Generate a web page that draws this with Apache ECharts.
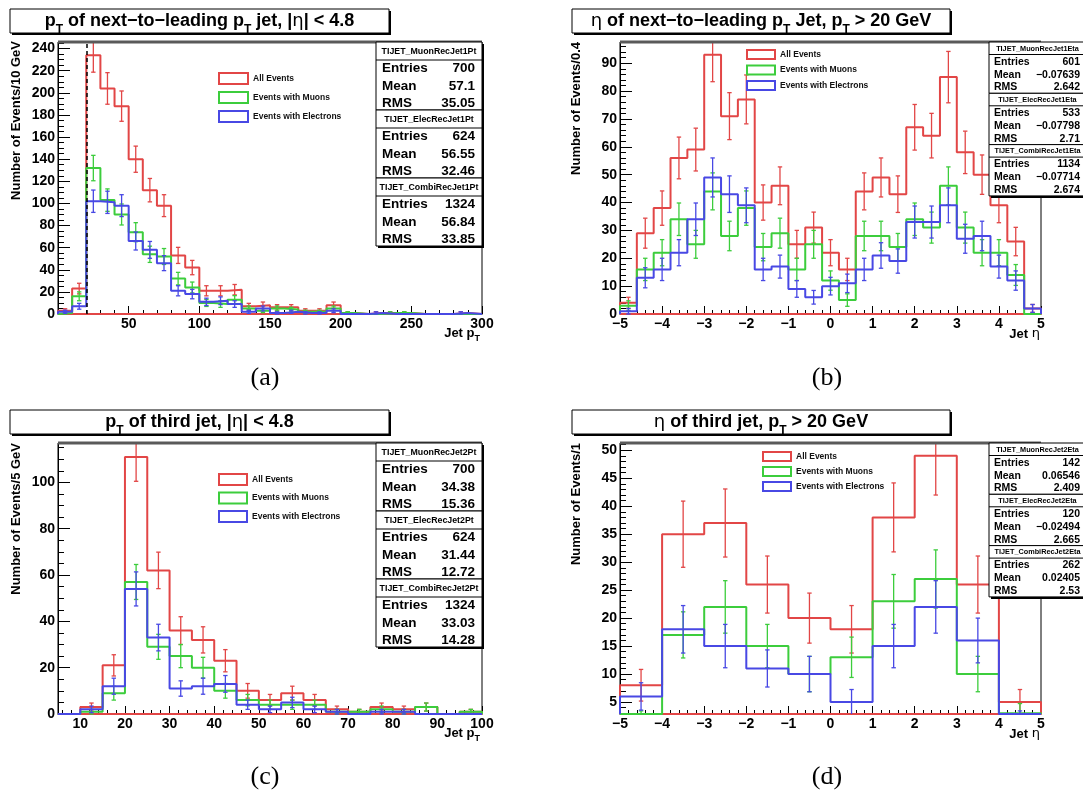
<!DOCTYPE html>
<html>
<head>
<meta charset="utf-8">
<script src="https://cdn.jsdelivr.net/npm/echarts@6/dist/echarts.min.js"></script>
<style>
  html, body { margin: 0; padding: 0; background: #ffffff; }
  #chart { width: 1083px; height: 797px; }
</style>
</head>
<body>
<div id="chart"></div>
<script>
const FONT = '"Liberation Sans", Arial, Helvetica, sans-serif';
const GREEK = '"DejaVu Sans", "Liberation Sans", sans-serif';
const SERIF = '"Liberation Serif", "DejaVu Serif", serif';

const seriesNames = ['All Events', 'Events with Muons', 'Events with Electrons'];
const seriesColors = ['#e24646', '#3ccd3c', '#4848e4'];

// (a) pT of the next-to-leading jet, 10 GeV bins from 0 to 300
const leadPtStart = 0;
const leadPtWidth = 10;
const leadPtAll  = [3, 23, 234, 204, 188, 140, 112, 98, 53, 42, 21, 21, 22, 7, 8, 6, 6, 3, 3, 8, 1, 0, 1, 1, 1, 0, 0, 0, 1, 0];
const leadPtMuon = [1, 16, 132, 103, 90, 74, 54, 52, 32, 24, 10, 9, 13, 5, 3, 5, 4, 2, 2, 5, 1, 0, 0, 1, 1, 0, 0, 0, 0, 0];
const leadPtElec = [2, 7, 102, 101, 98, 66, 58, 46, 21, 18, 11, 12, 9, 2, 5, 1, 2, 1, 1, 3, 0, 0, 1, 0, 0, 0, 0, 0, 1, 0];
const leadPtCut = 20;

// (b) eta of the next-to-leading jet, 0.4 bins from -5 to 5
const leadEtaStart = -5;
const leadEtaWidth = 0.4;
const leadEtaAll  = [4, 29, 38, 56, 59, 93, 71, 77, 40, 46, 25, 31, 22, 16, 44, 49, 43, 67, 64, 85, 58, 50, 39, 26, 2];
const leadEtaMuon = [3, 16, 22, 34, 25, 44, 28, 38, 24, 29, 16, 25, 12, 5, 28, 28, 24, 34, 31, 46, 31, 22, 22, 14, 0];
const leadEtaElec = [1, 13, 16, 22, 34, 49, 43, 39, 16, 17, 9, 6, 10, 11, 16, 21, 19, 33, 33, 39, 27, 28, 17, 12, 2];

// (c) pT of the third jet, 5 GeV bins from 5 to 100
const thirdPtStart = 5;
const thirdPtWidth = 5;
const thirdPtAll  = [0, 3, 21, 111, 62, 36, 32, 23, 10, 6, 9, 6, 2, 1, 3, 2, 3, 0, 1];
const thirdPtMuon = [0, 1, 9, 57, 29, 25, 20, 10, 6, 4, 4, 4, 1, 1, 2, 1, 3, 0, 1];
const thirdPtElec = [0, 2, 12, 54, 33, 11, 12, 13, 4, 2, 5, 2, 1, 0, 1, 1, 0, 0, 0];

// (d) eta of the third jet, unit bins from -5 to 5
const thirdEtaStart = -5;
const thirdEtaWidth = 1;
const thirdEtaAll  = [8, 35, 37, 26, 20, 18, 38, 49, 26, 5];
const thirdEtaMuon = [2, 17, 22, 15, 10, 13, 23, 27, 10, 3];
const thirdEtaElec = [6, 18, 15, 11, 10, 5, 15, 22, 16, 2];

// statistics boxes: name, entries, mean, rms
const statRowLabels = ['Entries', 'Mean', 'RMS'];
const leadPtStats = [
  ['TIJET_MuonRecJet1Pt', '700', '57.1', '35.05'],
  ['TIJET_ElecRecJet1Pt', '624', '56.55', '32.46'],
  ['TIJET_CombiRecJet1Pt', '1324', '56.84', '33.85']
];
const leadEtaStats = [
  ['TIJET_MuonRecJet1Eta', '601', '\u22120.07639', '2.642'],
  ['TIJET_ElecRecJet1Eta', '533', '\u22120.07798', '2.71'],
  ['TIJET_CombiRecJet1Eta', '1134', '\u22120.07714', '2.674']
];
const thirdPtStats = [
  ['TIJET_MuonRecJet2Pt', '700', '34.38', '15.36'],
  ['TIJET_ElecRecJet2Pt', '624', '31.44', '12.72'],
  ['TIJET_CombiRecJet2Pt', '1324', '33.03', '14.28']
];
const thirdEtaStats = [
  ['TIJET_MuonRecJet2Eta', '142', '0.06546', '2.409'],
  ['TIJET_ElecRecJet2Eta', '120', '\u22120.02494', '2.665'],
  ['TIJET_CombiRecJet2Eta', '262', '0.02405', '2.53']
];

// titles (rich text: b = bold, s = subscript, g = greek)
const panelTitles = [
  '{b|p}{s|T}{b| of next\u2212to\u2212leading p}{s|T}{b| jet, |}{g|\u03b7}{b|| < 4.8}',
  '{g|\u03b7}{b| of next\u2212to\u2212leading p}{s|T}{b| Jet, p}{s|T}{b| > 20 GeV}',
  '{b|p}{s|T}{b| of third jet, |}{g|\u03b7}{b|| < 4.8}',
  '{g|\u03b7}{b| of third jet, p}{s|T}{b| > 20 GeV}'
];
const yTitles = ['Number of Events/10 GeV', 'Number of Events/0.4', 'Number of Events/5 GeV', 'Number of Events/1'];
const xTitles = ['{x|Jet p}{xs|T}', '{x|Jet }{xg|\u03b7}', '{x|Jet p}{xs|T}', '{x|Jet }{xg|\u03b7}'];
const captions = ['(a)', '(b)', '(c)', '(d)'];

// layout of the four pads
const panels = [
  {
    grid: { left: 58, top: 42, width: 424, height: 272 },
    start: leadPtStart, width: leadPtWidth, hists: [leadPtAll, leadPtMuon, leadPtElec],
    x: { min: 0, max: 300, interval: 50, minor: 5, step: 50, hide: [0] },
    y: { min: 0, max: 246, interval: 20, minor: 4, step: 20 },
    legend: { left: 218, top: 72, itemWidth: 29, itemHeight: 11, itemGap: 6 },
    title: { x: 10, y: 9, w: 379, h: 24 },
    stats: leadPtStats, statBox: 'big', statX: 376,
    yTitle: { x: 16, y: 41 }, xTitle: { x: 480, y: 334 }, caption: { x: 265, y: 378 }
  },
  {
    grid: { left: 620, top: 42, width: 421, height: 272 },
    start: leadEtaStart, width: leadEtaWidth, hists: [leadEtaAll, leadEtaMuon, leadEtaElec],
    x: { min: -5, max: 5, interval: 1, minor: 5, step: 1, hide: [] },
    y: { min: 0, max: 97.6, interval: 10, minor: 5, step: 10 },
    legend: { left: 746, top: 49, itemWidth: 28, itemHeight: 9, itemGap: 4.5 },
    title: { x: 572, y: 9, w: 378, h: 24 },
    stats: leadEtaStats, statBox: 'small', statX: 989,
    yTitle: { x: 576, y: 42 }, xTitle: { x: 1040, y: 335 }, caption: { x: 827, y: 378 }
  },
  {
    grid: { left: 58, top: 443, width: 424, height: 271 },
    start: thirdPtStart, width: thirdPtWidth, hists: [thirdPtAll, thirdPtMuon, thirdPtElec],
    x: { min: 5, max: 100, splitNumber: 10, minor: 5, step: 10, hide: [] },
    y: { min: 0, max: 117, interval: 20, minor: 4, step: 20 },
    legend: { left: 218, top: 473, itemWidth: 28, itemHeight: 11, itemGap: 5.5 },
    title: { x: 10, y: 410, w: 379, h: 24 },
    stats: thirdPtStats, statBox: 'big', statX: 376,
    yTitle: { x: 16, y: 443 }, xTitle: { x: 480, y: 734 }, caption: { x: 265, y: 777 }
  },
  {
    grid: { left: 620, top: 443, width: 421, height: 271 },
    start: thirdEtaStart, width: thirdEtaWidth, hists: [thirdEtaAll, thirdEtaMuon, thirdEtaElec],
    x: { min: -5, max: 5, interval: 1, minor: 5, step: 1, hide: [] },
    y: { min: 2.86, max: 51.3, splitNumber: 10, minor: 5, step: 5 },
    legend: { left: 762, top: 451, itemWidth: 28, itemHeight: 9, itemGap: 4 },
    title: { x: 572, y: 410, w: 378, h: 24 },
    stats: thirdEtaStats, statBox: 'small', statX: 989,
    yTitle: { x: 576, y: 443 }, xTitle: { x: 1040, y: 735 }, caption: { x: 827, y: 777 }
  }
];

const statStyles = {
  big:   { w: 106, boxH: 68, headH: 18, headFont: 8.8, rowFont: 13.5, rowY: [26, 44, 61], labelDx: 6, valueDx: 99 },
  small: { w: 97,  boxH: 51.3, headH: 12.5, headFont: 7.3, rowFont: 10.5, rowY: [20, 33, 45.5], labelDx: 5, valueDx: 91 }
};

// histogram outline: steps over the bins, starting and ending on the axis floor
function stepOutline(start, width, values, floor, closeBase) {
  const pts = [[start, floor]];
  values.forEach((v, i) => {
    const y = Math.max(v, floor);
    pts.push([start + i * width, y], [start + (i + 1) * width, y]);
  });
  pts.push([start + values.length * width, floor]);
  if (closeBase) pts.push([start, floor]);
  return pts;
}

// Poisson error bars at bin centres
function errorData(start, width, values) {
  return values.map((v, i) => [start + (i + 0.5) * width, v, Math.sqrt(v)]);
}

function renderErrorBar(params, api) {
  const e = api.value(2);
  if (!(e > 0)) return null;
  const xv = api.value(0), v = api.value(1);
  const cs = params.coordSys;
  const x = api.coord([xv, v])[0];
  let yLo = api.coord([xv, v - e])[1];
  let yHi = api.coord([xv, v + e])[1];
  const top = cs.y, bot = cs.y + cs.height;
  if (yLo < top || yHi > bot) return null;
  const capLo = yLo <= bot, capHi = yHi >= top;
  yLo = Math.min(yLo, bot);
  yHi = Math.max(yHi, top);
  const style = { stroke: api.visual('color'), lineWidth: 1.3 };
  const children = [{ type: 'line', shape: { x1: x, y1: yLo, x2: x, y2: yHi }, style }];
  if (capLo) children.push({ type: 'line', shape: { x1: x - 2.2, y1: yLo, x2: x + 2.2, y2: yLo }, style });
  if (capHi) children.push({ type: 'line', shape: { x1: x - 2.2, y1: yHi, x2: x + 2.2, y2: yHi }, style });
  return { type: 'group', children };
}

function tickLabel(v, step, hide) {
  const r = v / step;
  if (Math.abs(r - Math.round(r)) > 1e-6) return '';
  if (hide && hide.some(h => Math.abs(h - v) < 1e-9)) return '';
  return String(+v.toFixed(6)).replace('-', '\u2212');
}

function makeAxis(idx, o, isX) {
  const axis = {
    type: 'value', gridIndex: idx, min: o.min, max: o.max,
    axisLine: { show: true, onZero: false, lineStyle: { color: '#000', width: 1 } },
    axisTick: { show: true, inside: true, length: isX ? 8 : 12, lineStyle: { color: '#000', width: 1 } },
    minorTick: { show: true, splitNumber: o.minor, length: isX ? 4 : 6, lineStyle: { color: '#000', width: 1 } },
    splitLine: { show: false },
    minorSplitLine: { show: false },
    axisLabel: {
      show: true, margin: 3, color: '#000', fontFamily: FONT, fontWeight: 'bold', fontSize: 14,
      showMinLabel: true, showMaxLabel: true, hideOverlap: false,
      formatter: v => tickLabel(v, o.step, o.hide)
    }
  };
  if (o.interval) axis.interval = o.interval; else axis.splitNumber = o.splitNumber;
  return axis;
}

const grids = [], xAxes = [], yAxes = [], series = [], legends = [], graphics = [];

panels.forEach((p, i) => {
  grids.push(Object.assign({ show: true, borderColor: '#000', borderWidth: 1, backgroundColor: 'transparent' }, p.grid));
  xAxes.push(makeAxis(i, p.x, true));
  yAxes.push(makeAxis(i, p.y, false));

  p.hists.forEach((vals, k) => {
    const line = {
      type: 'line', name: seriesNames[k], xAxisIndex: i, yAxisIndex: i,
      data: stepOutline(p.start, p.width, vals, p.y.min, k === 0),
      showSymbol: false, symbol: 'none', clip: true, silent: true, animation: false,
      lineStyle: { color: seriesColors[k], width: 2 }, itemStyle: { color: seriesColors[k] },
      z: 2 + k
    };
    if (i === 0 && k === 0) {
      line.markLine = {
        silent: true, symbol: ['none', 'none'], animation: false,
        label: { show: false },
        lineStyle: { color: '#000', type: [4, 3], width: 1.5 },
        data: [{ xAxis: leadPtCut }]
      };
    }
    series.push(line);
    series.push({
      type: 'custom', name: seriesNames[k], xAxisIndex: i, yAxisIndex: i,
      data: errorData(p.start, p.width, vals),
      encode: { x: 0, y: 1 }, renderItem: renderErrorBar,
      itemStyle: { color: seriesColors[k] }, silent: true, animation: false,
      z: 2 + k
    });
  });

  legends.push({
    show: true, orient: 'vertical', left: p.legend.left, top: p.legend.top, padding: 0,
    itemWidth: p.legend.itemWidth, itemHeight: p.legend.itemHeight, itemGap: p.legend.itemGap,
    icon: 'rect', selectedMode: false,
    textStyle: { fontFamily: FONT, fontWeight: 'bold', fontSize: 8.5, color: '#111' },
    data: seriesNames.map((n, k) => ({
      name: n, icon: 'rect',
      itemStyle: { color: 'rgba(255,255,255,0)', borderColor: seriesColors[k], borderWidth: 2 }
    }))
  });

  // title box with a drop shadow
  const t = p.title;
  graphics.push({ type: 'rect', z: 100, shape: { x: t.x + 2, y: t.y + 2, width: t.w, height: t.h }, style: { fill: '#000' } });
  graphics.push({ type: 'rect', z: 101, shape: { x: t.x, y: t.y, width: t.w, height: t.h }, style: { fill: '#fff', stroke: '#000', lineWidth: 1 } });
  graphics.push({
    type: 'text', z: 102, x: t.x + t.w / 2, y: t.y + t.h / 2 + 1.5,
    style: {
      text: panelTitles[i], align: 'center', verticalAlign: 'middle',
      rich: {
        b: { fontFamily: FONT, fontWeight: 'bold', fontSize: 18, lineHeight: 20, verticalAlign: 'top', fill: '#000' },
        g: { fontFamily: GREEK, fontWeight: 'normal', fontSize: 18, lineHeight: 20, verticalAlign: 'top', fill: '#000' },
        s: { fontFamily: FONT, fontWeight: 'bold', fontSize: 12, lineHeight: 12, padding: [11, 0, 0, 0], verticalAlign: 'top', fill: '#000' }
      }
    }
  });

  // thick upper frame edge
  graphics.push({
    type: 'line', z: 60,
    shape: { x1: p.grid.left, y1: p.grid.top, x2: p.grid.left + p.grid.width, y2: p.grid.top },
    style: { stroke: '#5a5a5a', lineWidth: 3 }
  });

  // statistics boxes
  const s = statStyles[p.statBox];
  p.stats.forEach((st, k) => {
    const bx = p.statX, by = p.grid.top + k * s.boxH;
    graphics.push({ type: 'rect', z: 110 + k * 5, shape: { x: bx + 2, y: by + 2, width: s.w, height: s.boxH }, style: { fill: '#000' } });
    graphics.push({ type: 'rect', z: 111 + k * 5, shape: { x: bx, y: by, width: s.w, height: s.boxH }, style: { fill: '#fff', stroke: '#000', lineWidth: 1 } });
    graphics.push({ type: 'line', z: 112 + k * 5, shape: { x1: bx, y1: by + s.headH, x2: bx + s.w, y2: by + s.headH }, style: { stroke: '#000', lineWidth: 1 } });
    graphics.push({
      type: 'text', z: 112 + k * 5, x: bx + s.w / 2, y: by + s.headH / 2 + 0.5,
      style: { text: st[0], align: 'center', verticalAlign: 'middle', font: 'bold ' + s.headFont + 'px ' + FONT, fill: '#000' }
    });
    statRowLabels.forEach((lab, r) => {
      graphics.push({
        type: 'text', z: 112 + k * 5, x: bx + s.labelDx, y: by + s.rowY[r],
        style: { text: lab, align: 'left', verticalAlign: 'middle', font: 'bold ' + s.rowFont + 'px ' + FONT, fill: '#000' }
      });
      graphics.push({
        type: 'text', z: 112 + k * 5, x: bx + s.valueDx, y: by + s.rowY[r],
        style: { text: st[r + 1], align: 'right', verticalAlign: 'middle', font: 'bold ' + s.rowFont + 'px ' + FONT, fill: '#000' }
      });
    });
  });

  // axis titles
  graphics.push({
    type: 'text', z: 100, x: p.yTitle.x, y: p.yTitle.y, rotation: Math.PI / 2,
    style: { text: yTitles[i], align: 'right', verticalAlign: 'middle', font: 'bold 13px ' + FONT, fill: '#000' }
  });
  graphics.push({
    type: 'text', z: 100, x: p.xTitle.x, y: p.xTitle.y,
    style: {
      text: xTitles[i], align: 'right', verticalAlign: 'middle',
      rich: {
        x: { fontFamily: FONT, fontWeight: 'bold', fontSize: 13, lineHeight: 15, verticalAlign: 'top', fill: '#000' },
        xg: { fontFamily: GREEK, fontWeight: 'normal', fontSize: 13, lineHeight: 15, verticalAlign: 'top', fill: '#000' },
        xs: { fontFamily: FONT, fontWeight: 'bold', fontSize: 9, lineHeight: 9, padding: [8, 0, 0, 0], verticalAlign: 'top', fill: '#000' }
      }
    }
  });

  // sub-figure caption
  graphics.push({
    type: 'text', z: 100, x: p.caption.x, y: p.caption.y,
    style: { text: captions[i], align: 'center', verticalAlign: 'middle', font: '26px ' + SERIF, fill: '#000' }
  });
});

const chart = echarts.init(document.getElementById('chart'), null, { renderer: 'canvas', width: 1083, height: 797 });
chart.setOption({
  backgroundColor: '#ffffff',
  animation: false,
  grid: grids,
  xAxis: xAxes,
  yAxis: yAxes,
  legend: legends,
  series: series,
  graphic: { elements: graphics }
});
</script>
</body>
</html>
